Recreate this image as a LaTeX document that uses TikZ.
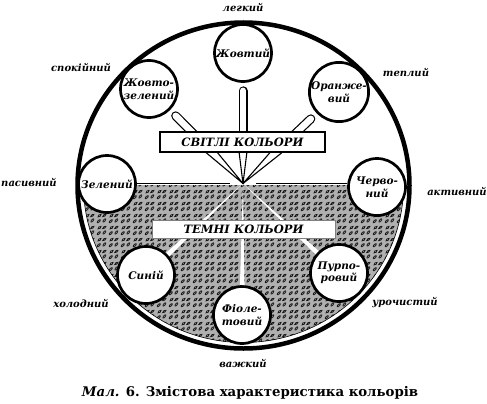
\documentclass[tikz,border=0pt]{standalone}
\usepackage{fontspec}
\setmainfont{DejaVu Serif}
\usetikzlibrary{calc,patterns}

\pgfdeclarepatternformonly{squig}{\pgfpointorigin}{\pgfpoint{12pt}{12pt}}{\pgfpoint{12pt}{12pt}}{
  \pgfsetlinewidth{0.85pt}
  \pgfpathellipse{\pgfpoint{3pt}{3pt}}{\pgfpoint{1.6pt}{1.5pt}}{\pgfpoint{-0.6pt}{0.7pt}}
  \pgfpathellipse{\pgfpoint{9pt}{3.8pt}}{\pgfpoint{1.4pt}{1.7pt}}{\pgfpoint{-0.7pt}{0.6pt}}
  \pgfpathellipse{\pgfpoint{3.8pt}{9pt}}{\pgfpoint{1.6pt}{1.3pt}}{\pgfpoint{-0.6pt}{0.8pt}}
  \pgfpathellipse{\pgfpoint{9pt}{9.2pt}}{\pgfpoint{1.7pt}{1.2pt}}{\pgfpoint{-0.5pt}{0.8pt}}
  \pgfusepath{stroke}
}

\begin{document}
\begin{tikzpicture}[x=1pt,y=-1pt,
  cnode/.style={circle, draw, line width=2.7pt, fill=white, minimum size=57pt, inner sep=0pt,
    align=center, font=\bfseries\itshape\fontsize{10.5}{12.5}\selectfont},
  lbl/.style={font=\bfseries\itshape\fontsize{10}{12}\selectfont, inner sep=1pt},
  lightbox/.style={draw, line width=1.1pt, fill=white, minimum width=165pt, minimum height=20pt,
    inner sep=0pt, font=\bfseries\itshape\fontsize{11.5}{13}\selectfont},
  darkbox/.style={draw=black!50, line width=0.4pt, fill=white, minimum width=183pt, minimum height=18pt,
    inner sep=0pt, font=\bfseries\itshape\fontsize{11.5}{13}\selectfont},
  spokeout/.style={line width=9pt, line cap=round, shorten >=8pt},
  spokein/.style={white, line width=6.6pt, line cap=round, shorten >=8pt},
  wedge/.style={fill=white, draw=black, line width=1.1pt, line join=round},
  darkwedge/.style={fill=white},
  sep/.style={line width=1.2pt}
]
\useasboundingbox (0,0) rectangle (487,404);
\coordinate (C) at (243.5,185.5);
\coordinate (O) at (243,183.5);

% dark (patterned) lower half
\begin{scope}
  \clip (0,185.5) rectangle (487,404);
  \fill[gray!62] (C) ellipse [x radius=160, y radius=157];
  \fill[pattern=squig, pattern color=black!90] (C) ellipse [x radius=160, y radius=157];
  \draw[line width=0.6pt] (C) ellipse [x radius=160, y radius=157];
\end{scope}

% colour circles
\node[cnode] (nY)  at (243,53)  {Жовтий};
\node[cnode] (nYG) at (149,89)  {Жовто-\\зелений};
\node[cnode] (nO)  at (339,92)  {Оранже-\\вий};
\node[cnode] (nG)  at (107,184) {Зелений};
\node[cnode] (nR)  at (377,187) {Черво-\\ний};
\node[cnode] (nB)  at (146,275) {Синій};
\node[cnode] (nP)  at (339,273) {Пурпо-\\ровий};
\node[cnode] (nV)  at (242,315) {Фіоле-\\товий};

% lower spokes (white wedges in the pattern)
\foreach \n in {nB,nV,nP}{
  \coordinate (E\n) at ($(\n)!30pt!(O)$);
  \fill[darkwedge] (O) -- ($(E\n)!2.3pt!90:(O)$) -- ($(E\n)!2.3pt!-90:(O)$) -- cycle;
}

% separator line
\draw[sep] (nG.east |- O) -- ($(O)+(-13,0)$);
\draw[sep] ($(O)+(13,0)$) -- (nR.west |- O);

% upper spokes
\coordinate (TnY)  at ($(O)!36pt!(nY)$);
\coordinate (TnYG) at ($(O)!49pt!(nYG)$);
\coordinate (TnO)  at ($(O)!49pt!(nO)$);
\foreach \n in {nY,nYG,nO}{
  \filldraw[wedge] (O) -- ($(T\n)!4.5pt!90:(\n)$) -- ($(T\n)!4.5pt!-90:(\n)$) -- cycle;
}
\coordinate (SnY)  at ($(O)!44pt!(nY)$);
\coordinate (SnYG) at ($(O)!58pt!(nYG)$);
\coordinate (SnO)  at ($(O)!58pt!(nO)$);
\foreach \n in {nY,nYG,nO}{
  \draw[spokeout] (S\n) -- (\n);
  \draw[spokein] (S\n) -- (\n);
}
\fill (O) circle [radius=1];

% boxes
\node[lightbox] (sv) at (242.5,142) {СВІТЛІ КОЛЬОРИ};
\node[darkbox]  (tm) at (243.5,229) {ТЕМНІ КОЛЬОРИ};

% outer circle
\draw[line width=4.5pt] (C) ellipse [x radius=166, y radius=163];

% outer labels
\node[lbl] (l1) at (243,7)   {легкий};
\node[lbl] (l2) at (81,67)   {спокійний};
\node[lbl] (l3) at (406,72)  {теплий};
\node[lbl] (l4) at (29,182)  {пасивний};
\node[lbl] (l5) at (457,191) {активний};
\node[lbl] (l6) at (81,303)  {холодний};
\node[lbl] (l7) at (405,303) {урочистий};
\node[lbl] (l8) at (243,363) {важкий};

% caption
\node[font=\bfseries\fontsize{13.3}{15}\selectfont] (cap) at (250,393)
  {\textit{Мал.} 6. Змістова характеристика кольорів};
\end{tikzpicture}
\end{document}
